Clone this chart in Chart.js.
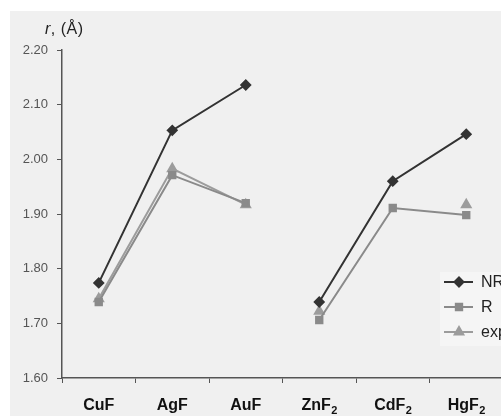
<!DOCTYPE html>
<html>
<head>
<meta charset="utf-8">
<script src="https://cdn.jsdelivr.net/npm/chart.js@4/dist/chart.umd.min.js"></script>
<style>
  html, body { margin: 0; padding: 0; background: #fff; overflow: hidden; }
  #frame { position: absolute; left: 10px; top: 11px; width: 491px; height: 405px; background: #f0f0f0; overflow: hidden; }
  #wrap { position: absolute; left: 0; top: 0; width: 500px; height: 405px; }
  #ytitle { position: absolute; left: 35px; top: 9px; font: 16px "Liberation Sans", Arial, sans-serif; color: #222; letter-spacing: 0.5px; }
</style>
</head>
<body>
<div id="frame">
  <div id="wrap"><canvas id="chart" width="500" height="405"></canvas></div>
  <div id="ytitle"><i>r</i>, (Å)</div>
</div>
<script>
// Categories and series
const compounds = ['CuF', 'AgF', 'AuF', 'ZnF\u2082', 'CdF\u2082', 'HgF\u2082'];
const nrValues = [1.774, 2.053, 2.136, 1.739, 1.960, 2.046];
const rValues = [1.739, 1.971, 1.920, 1.706, 1.911, 1.898];
const expValues = [1.745, 1.983, 1.917, 1.722, null, 1.917];
const seriesNames = ['NR', 'R', 'exp'];
const yTicks = [1.60, 1.70, 1.80, 1.90, 2.00, 2.10, 2.20];

// break the line between the two compound groups
const breakAfter = 2;
const gapSegment = {
    borderColor: ctx => ctx.p0DataIndex === breakAfter ? 'transparent' : undefined
};

const fontFamily = '"Liberation Sans", Arial, sans-serif';

// legend drawn inside the plot, like the original
const insideLegend = {
    id: 'insideLegend',
    afterDraw(chart) {
        const c = chart.ctx;
        const area = chart.chartArea;
        const x0 = area.right - 59;
        const y0 = area.top + 232;
        c.save();
        c.fillStyle = '#f5f5f5';
        c.fillRect(x0 - 4, y0 - 10, 80, 74);
        chart.data.datasets.forEach((ds, i) => {
            const y = y0 + i * 25;
            c.strokeStyle = ds.borderColor;
            c.fillStyle = ds.borderColor;
            c.lineWidth = ds.borderWidth;
            c.beginPath();
            c.moveTo(x0, y);
            c.lineTo(x0 + 29, y);
            c.stroke();
            Chart.helpers.drawPoint(c, {
                pointStyle: ds.pointStyle,
                radius: ds.pointRadius,
                rotation: 0,
                borderWidth: 1
            }, x0 + 15, y);
            c.fillStyle = '#222';
            c.font = '16px ' + fontFamily;
            c.textBaseline = 'middle';
            c.fillText(ds.label, x0 + 37, y + 1);
        });
        c.restore();
    }
};

// category labels with a real lowered subscript 2
const subLabels = {
    id: 'subLabels',
    afterDraw(chart) {
        const c = chart.ctx;
        const xs = chart.scales.x;
        const y = xs.top + 32;
        c.save();
        c.fillStyle = '#111';
        c.textBaseline = 'alphabetic';
        compounds.forEach((name, i) => {
            const main = name.replace('\u2082', '');
            const hasSub = main !== name;
            c.font = 'bold 16px ' + fontFamily;
            const wMain = c.measureText(main).width;
            c.font = 'bold 11px ' + fontFamily;
            const wSub = hasSub ? c.measureText('2').width : 0;
            const x = xs.getPixelForValue(i) - (wMain + wSub) / 2;
            c.font = 'bold 16px ' + fontFamily;
            c.fillText(main, x, y);
            if (hasSub) {
                c.font = 'bold 11px ' + fontFamily;
                c.fillText('2', x + wMain + 0.5, y + 4);
            }
        });
        c.restore();
    }
};

function lineSet(label, data, color, style, radius) {
    return {
        label: label,
        data: data,
        borderColor: color,
        backgroundColor: color,
        pointBackgroundColor: color,
        pointBorderColor: color,
        borderWidth: 2,
        pointStyle: style,
        pointRadius: radius,
        pointHoverRadius: radius,
        tension: 0,
        spanGaps: false,
        segment: gapSegment
    };
}

new Chart(document.getElementById('chart'), {
    type: 'line',
    data: {
        labels: compounds,
        datasets: [
            lineSet(seriesNames[0], nrValues, '#333333', 'rectRot', 4.5),
            lineSet(seriesNames[1], rValues, '#8a8a8a', 'rect', 4.5),
            lineSet(seriesNames[2], expValues, '#9c9c9c', 'triangle', 5)
        ]
    },
    options: {
        responsive: false,
        animation: false,
        layout: { padding: { top: 39, right: 4, left: 0, bottom: 0 } },
        plugins: {
            legend: { display: false },
            tooltip: { enabled: false }
        },
        scales: {
            x: {
                offset: true,
                grid: { offset: true, drawOnChartArea: false, drawTicks: true, tickLength: 5, color: '#555' },
                border: { color: '#555', width: 1.5 },
                ticks: { color: 'transparent' },
                afterFit: s => { s.height = 38; }
            },
            y: {
                min: yTicks[0],
                max: yTicks[yTicks.length - 1],
                afterBuildTicks: s => { s.ticks = yTicks.map(v => ({ value: v })); },
                grid: { drawOnChartArea: false, drawTicks: true, tickLength: 5, color: '#555' },
                border: { color: '#555', width: 1.5 },
                ticks: {
                    color: '#555',
                    padding: 9,
                    font: { family: fontFamily, size: 13 },
                    callback: v => Number(v).toFixed(2)
                },
                afterFit: s => { s.width = 52; }
            }
        }
    },
    plugins: [insideLegend, subLabels]
});
</script>
</body>
</html>
